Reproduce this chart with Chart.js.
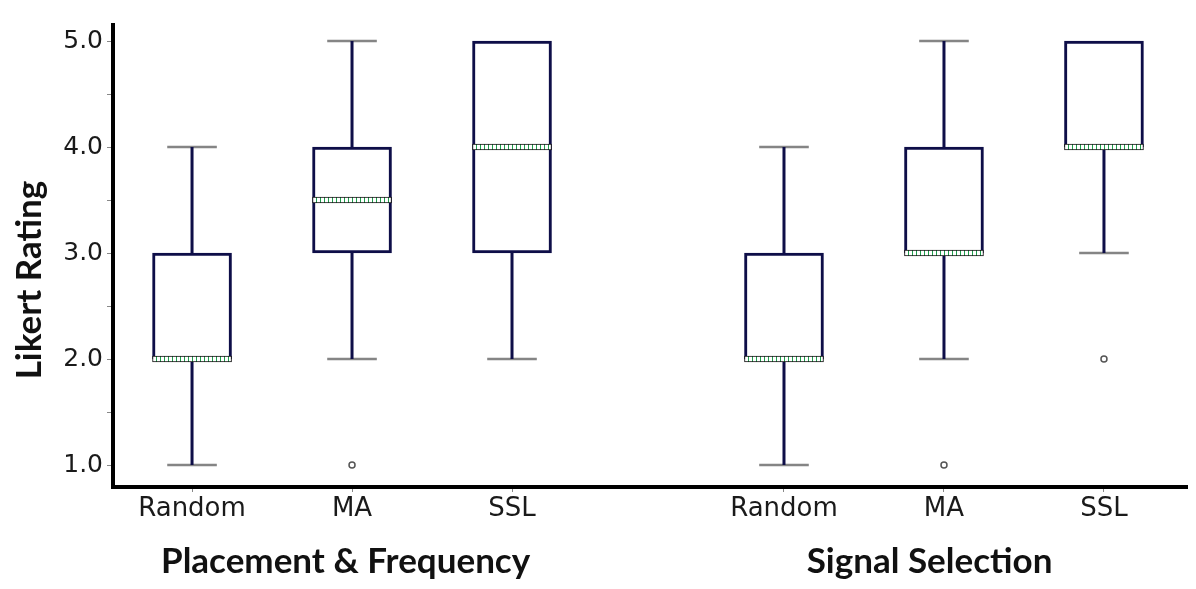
<!DOCTYPE html>
<html>
<head>
<meta charset="utf-8">
<script src="https://cdn.jsdelivr.net/npm/chart.js@4"></script>
<style>
    html, body { margin: 0; padding: 0; background: #fff; }
    #wrap { width: 1196px; height: 589px; }
</style>
</head>
<body>
<div id="wrap"><canvas id="likertChart" width="1196" height="589"></canvas></div>
<script>
// Box plot values
const categories = ['Random', 'MA', 'SSL', 'Random', 'MA', 'SSL'];
const positions = [0, 1, 2, 3.7, 4.7, 5.7];
const whiskerLow = [1, 2, 2, 1, 2, 3];
const q1 = [2, 3, 3, 2, 3, 4];
const medians = [2, 3.5, 4, 2, 3, 4];
const q3 = [3, 4, 5, 3, 4, 5];
const whiskerHigh = [4, 5, 5, 4, 5, 5];
const outliers = [[], [1], [], [], [1], [2]];
const yTicks = [1.0, 1.5, 2.0, 2.5, 3.0, 3.5, 4.0, 4.5, 5.0];
const yTitle = 'Likert Rating';
const groupTitles = ['Placement & Frequency', 'Signal Selection'];
const groupTitlePos = [0.96, 4.61];

document.addEventListener('DOMContentLoaded', function() {
    const canvas = document.getElementById('likertChart');
    const ctx = canvas.getContext('2d');

    const NAVY = '#0e0e48';
    const CAP_HALF = 0.155;     // half width of whisker caps (x units)
    const MEDIAN_HALF = 0.028;  // half height of the median band (y units)

    // Hatched green pattern for the median band
    function makeHatch() {
        const c = document.createElement('canvas');
        c.width = 4;
        c.height = 8;
        const g = c.getContext('2d');
        g.fillStyle = '#ffffff';
        g.fillRect(0, 0, 4, 8);
        g.fillStyle = '#1f9d4c';
        g.fillRect(0, 0, 1, 8);
        return ctx.createPattern(c, 'repeat');
    }

    // Whisker segments and caps, separated by gaps
    const whiskerData = [];
    const capData = [];
    positions.forEach((x, i) => {
        whiskerData.push({x: x, y: q3[i]}, {x: x, y: whiskerHigh[i]}, {x: x, y: null});
        whiskerData.push({x: x, y: whiskerLow[i]}, {x: x, y: q1[i]}, {x: x, y: null});
        if (whiskerHigh[i] > q3[i]) {
            capData.push({x: x - CAP_HALF, y: whiskerHigh[i]}, {x: x + CAP_HALF, y: whiskerHigh[i]}, {x: x, y: null});
        }
        if (whiskerLow[i] < q1[i]) {
            capData.push({x: x - CAP_HALF, y: whiskerLow[i]}, {x: x + CAP_HALF, y: whiskerLow[i]}, {x: x, y: null});
        }
    });

    const outlierData = [];
    outliers.forEach((list, i) => {
        list.forEach(v => outlierData.push({x: positions[i], y: v}));
    });

    // Axis title and the titles under each group of boxes
    const titlesPlugin = {
        id: 'groupTitles',
        afterDraw(chart) {
            const c = chart.ctx;
            const xScale = chart.scales.x;
            c.save();
            c.font = 'bold 35px Lato';
            c.fillStyle = '#111111';
            c.textAlign = 'center';
            c.textBaseline = 'alphabetic';
            groupTitles.forEach((t, i) => {
                c.fillText(t, xScale.getPixelForValue(groupTitlePos[i]), chart.chartArea.bottom + 86);
            });

            c.translate(41, 280);
            c.rotate(-Math.PI / 2);
            c.fillText(yTitle, 0, 0);
            c.restore();
        }
    };

    new Chart(ctx, {
        type: 'bar',
        data: {
            datasets: [
                {
                    type: 'bar',
                    label: 'median',
                    data: positions.map((x, i) => ({x: x, y: [medians[i] - MEDIAN_HALF, medians[i] + MEDIAN_HALF]})),
                    backgroundColor: makeHatch(),
                    borderColor: '#111111',
                    borderWidth: 1,
                    borderSkipped: false,
                    barThickness: 79,
                    grouped: false,
                    order: 0
                },
                {
                    type: 'scatter',
                    label: 'outliers',
                    data: outlierData,
                    showLine: false,
                    pointRadius: 3,
                    pointBackgroundColor: '#ffffff',
                    pointBorderColor: '#555555',
                    pointBorderWidth: 1.5,
                    order: 0
                },
                {
                    type: 'bar',
                    label: 'box',
                    data: positions.map((x, i) => ({x: x, y: [q1[i], q3[i]]})),
                    backgroundColor: '#ffffff',
                    borderColor: NAVY,
                    borderWidth: 3,
                    borderSkipped: false,
                    barThickness: 79,
                    grouped: false,
                    order: 1
                },
                {
                    type: 'line',
                    label: 'whiskers',
                    data: whiskerData,
                    borderColor: NAVY,
                    borderWidth: 3,
                    pointRadius: 0,
                    spanGaps: false,
                    fill: false,
                    order: 2
                },
                {
                    type: 'line',
                    label: 'caps',
                    data: capData,
                    borderColor: '#858585',
                    borderWidth: 2.5,
                    pointRadius: 0,
                    spanGaps: false,
                    fill: false,
                    order: 3
                }
            ]
        },
        options: {
            responsive: false,
            animation: false,
            layout: {
                padding: {top: 25, right: 9, left: 0, bottom: 0}
            },
            scales: {
                x: {
                    type: 'linear',
                    min: -0.494,
                    max: 6.219,
                    offset: false,
                    afterBuildTicks: function(scale) {
                        scale.ticks = positions.map(v => ({value: v}));
                    },
                    afterFit: function(scale) {
                        scale.height = 102;
                    },
                    grid: {
                        display: true,
                        offset: false,
                        drawOnChartArea: false,
                        drawTicks: true,
                        tickLength: 5,
                        tickColor: '#888888',
                        tickWidth: 1
                    },
                    border: {
                        display: true,
                        color: '#000000',
                        width: 4
                    },
                    ticks: {
                        autoSkip: false,
                        maxRotation: 0,
                        padding: 2,
                        color: '#1a1a1a',
                        font: {family: 'DejaVu Sans', size: 26},
                        callback: function(value, index) {
                            return categories[index];
                        }
                    }
                },
                y: {
                    type: 'linear',
                    min: 0.7925,
                    max: 5.151,
                    beginAtZero: false,
                    afterBuildTicks: function(scale) {
                        scale.ticks = yTicks.map(v => ({value: v}));
                    },
                    afterFit: function(scale) {
                        scale.width = 113;
                    },
                    grid: {
                        display: true,
                        drawOnChartArea: false,
                        drawTicks: true,
                        tickLength: 6,
                        tickColor: '#888888',
                        tickWidth: 1
                    },
                    border: {
                        display: true,
                        color: '#000000',
                        width: 4
                    },
                    ticks: {
                        padding: 4,
                        color: '#1a1a1a',
                        font: {family: 'DejaVu Sans', size: 25},
                        callback: function(value) {
                            return Number.isInteger(value) ? value.toFixed(1) : '';
                        }
                    }
                }
            },
            plugins: {
                legend: {display: false},
                tooltip: {enabled: false}
            }
        },
        plugins: [titlesPlugin]
    });
});
</script>
</body>
</html>
